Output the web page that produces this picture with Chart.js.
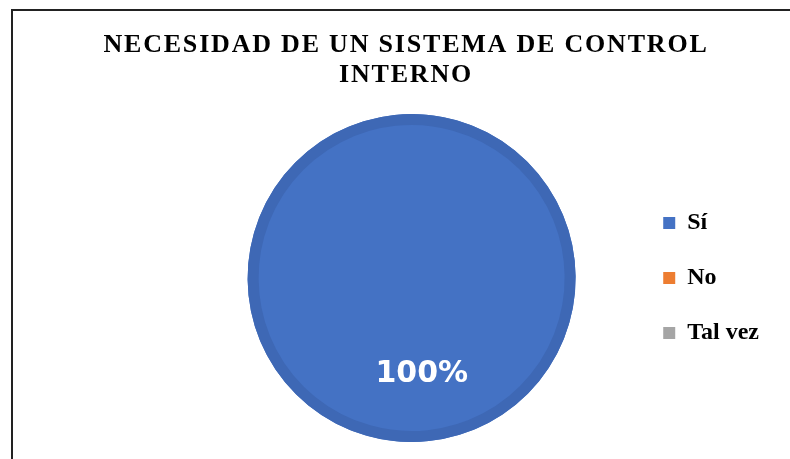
<!DOCTYPE html>
<html lang="es">
<head>
    <meta charset="UTF-8">
    <title>Necesidad de un sistema de control interno</title>
    <style>
        body {
            margin: 0;
            background-color: #fff;
        }

        #wrap {
            position: relative;
            width: 790px;
            height: 459px;
            overflow: hidden;
        }

        /* chart frame: only the top and left edges are visible */
        #frame {
            position: absolute;
            left: 11px;
            top: 9px;
            right: -10px;
            bottom: -10px;
            border-left: 2px solid #222;
            border-top: 2px solid #222;
            pointer-events: none;
        }
    </style>
</head>
<body>
    <div id="wrap">
        <canvas id="pie-chart" width="790" height="459"></canvas>
        <div id="frame"></div>
    </div>

    <script src="https://cdn.jsdelivr.net/npm/chart.js"></script>

    <script>
        const titleLines = ['NECESIDAD DE UN SISTEMA DE CONTROL', 'INTERNO'];
        const categories = ['Sí', 'No', 'Tal vez'];
        const values = [100, 0, 0];
        const sliceColors = ['#4472C4', '#ED7D31', '#A5A5A5'];
        const rimColors = ['#3E68B5', '#D5702B', '#959595'];

        const serif = '"Liberation Serif", "Times New Roman", serif';

        // title is drawn by hand so it can be letter-spaced and centred on the frame
        const spacedTitle = {
            id: 'spacedTitle',
            afterDraw(chart) {
                const ctx = chart.ctx;
                ctx.save();
                ctx.font = 'bold 26px ' + serif;
                ctx.fillStyle = '#000';
                ctx.textAlign = 'center';
                ctx.textBaseline = 'middle';
                ctx.letterSpacing = '1.8px';
                titleLines.forEach((line, i) => {
                    ctx.fillText(line, 406, 45 + i * 30);
                });
                ctx.restore();
            }
        };

        // darker rim around each slice and the percentage label inside it
        const rimAndLabels = {
            id: 'rimAndLabels',
            afterDatasetsDraw(chart) {
                const ctx = chart.ctx;
                const meta = chart.getDatasetMeta(0);
                const total = values.reduce((a, b) => a + b, 0);
                meta.data.forEach((arc, i) => {
                    if (!values[i]) return;
                    const r = arc.outerRadius;
                    ctx.save();
                    ctx.beginPath();
                    ctx.arc(arc.x, arc.y, r - 5.5, arc.startAngle, arc.endAngle);
                    ctx.lineWidth = 11;
                    ctx.strokeStyle = rimColors[i];
                    ctx.stroke();

                    const mid = (arc.startAngle + arc.endAngle) / 2;
                    ctx.font = 'bold 30px "DejaVu Sans", sans-serif';
                    ctx.fillStyle = '#fff';
                    ctx.textAlign = 'center';
                    ctx.textBaseline = 'middle';
                    const pct = Math.round(values[i] / total * 100) + '%';
                    ctx.fillText(pct, arc.x + Math.cos(mid) * r * 0.59, arc.y + Math.sin(mid) * r * 0.59);
                    ctx.restore();
                });
            }
        };

        const ctx = document.getElementById('pie-chart').getContext('2d');
        new Chart(ctx, {
            type: 'pie',
            data: {
                labels: categories,
                datasets: [{
                    data: values,
                    backgroundColor: sliceColors,
                    borderWidth: 0,
                    rotation: -6
                }]
            },
            options: {
                responsive: false,
                animation: false,
                layout: {
                    padding: { left: 191, right: 21, top: 114, bottom: 17 }
                },
                plugins: {
                    title: { display: false },
                    legend: {
                        position: 'right',
                        labels: {
                            boxWidth: 12,
                            boxHeight: 12,
                            padding: 31,
                            color: '#000',
                            font: { family: serif, size: 24, weight: 'bold' }
                        }
                    },
                    tooltip: { enabled: false }
                }
            },
            plugins: [rimAndLabels, spacedTitle]
        });
    </script>
</body>
</html>
